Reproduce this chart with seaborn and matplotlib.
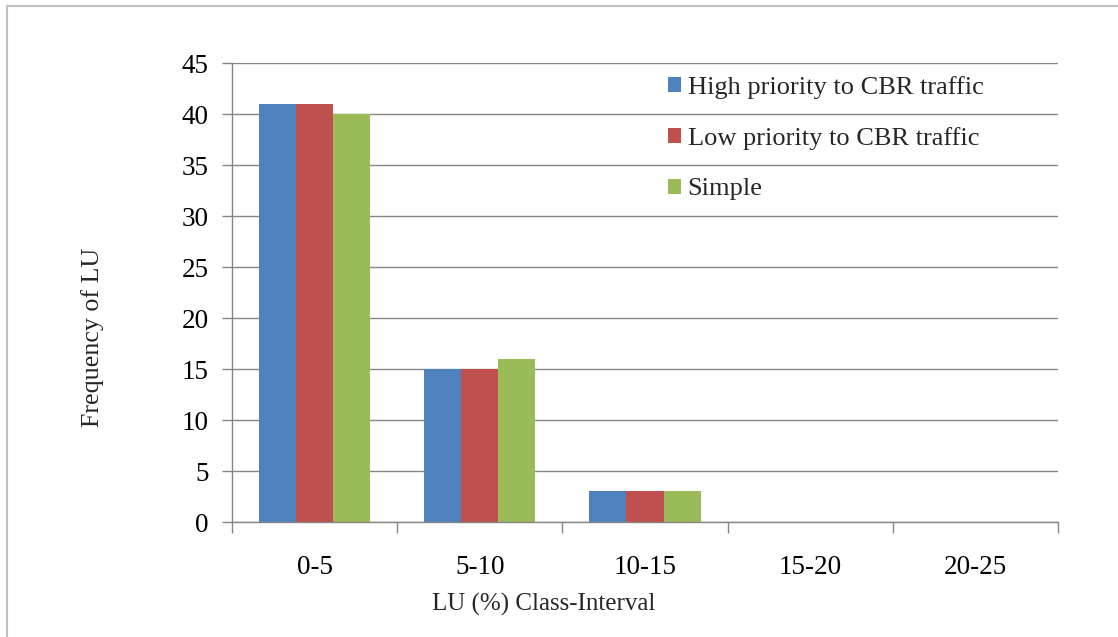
import matplotlib
matplotlib.use("Agg")
import matplotlib.pyplot as plt
from matplotlib.patches import Patch
from matplotlib.lines import Line2D
import seaborn as sns
import pandas as pd

categories = ["0-5", "5-10", "10-15", "15-20", "20-25"]
high_priority = [41, 15, 3, 0, 0]
low_priority = [41, 15, 3, 0, 0]
simple = [40, 16, 3, 0, 0]
series_names = ["High priority to CBR traffic", "Low priority to CBR traffic", "Simple"]
colors = ["#4F81BD", "#C0504D", "#9BBB59"]
y_ticks = [0, 5, 10, 15, 20, 25, 30, 35, 40, 45]

rows = []
for name, vals in zip(series_names, [high_priority, low_priority, simple]):
    for cat, v in zip(categories, vals):
        rows.append({"interval": cat, "freq": v, "series": name})
df = pd.DataFrame(rows)

sns.set_style("white")
plt.rcParams["font.family"] = ["Liberation Serif", "DejaVu Serif"]

W, H = 1118, 637
fig = plt.figure(figsize=(W / 100, H / 100), dpi=100)
ax = fig.add_axes([232 / W, 1 - 522 / H, (1058 - 232) / W, (522 - 63) / H])

sns.barplot(data=df, x="interval", y="freq", hue="series", order=categories,
            hue_order=series_names, palette=colors, width=0.672, gap=0,
            saturation=1, linewidth=0, ax=ax, legend=False)

grid_c = "#868686"
ax.set_ylim(0, 45)
ax.set_xlim(-0.5, len(categories) - 0.5)
ax.set_yticks(y_ticks)
ax.yaxis.grid(True, color=grid_c, linewidth=1)
ax.set_axisbelow(True)
for s in ["top", "right"]:
    ax.spines[s].set_visible(False)
for s in ["left", "bottom"]:
    ax.spines[s].set_color(grid_c)
    ax.spines[s].set_linewidth(1)

ax.tick_params(axis="y", length=7, color=grid_c, width=1, labelsize=19.5, pad=10,
               left=True, labelcolor="black")
ax.tick_params(axis="x", which="major", length=0, labelsize=19.5, pad=23.5,
               labelcolor="black")
ax.set_xticks([i - 0.5 for i in range(len(categories) + 1)], minor=True)
ax.tick_params(axis="x", which="minor", length=8, color=grid_c, width=1, bottom=True)
ax.set_xlabel("")
ax.set_ylabel("")

fig.text(544 / W, 1 - 604 / H, "LU (%) Class-Interval", fontsize=18,
         ha="center", va="center")
fig.text(93 / W, 1 - 337 / H, "Frequency of LU", fontsize=18.7,
         rotation=90, ha="center", va="center")

handles = [Patch(facecolor=c, edgecolor="none") for c in colors]
fig.legend(handles, series_names, loc="upper left",
           bbox_to_anchor=(668 / W, 1 - 76 / H), frameon=False, fontsize=19,
           handlelength=0.49, handleheight=0.49, handletextpad=0.25,
           labelspacing=1.07, borderpad=0, borderaxespad=0)

# Chart-area frame: visible on the left and top edges only
border_c = "#C0C0C0"
fig.add_artist(Line2D([7 / W, 7 / W], [0, 1 - 6 / H], transform=fig.transFigure,
                      color=border_c, linewidth=1.5))
fig.add_artist(Line2D([7 / W, 1], [1 - 6 / H, 1 - 6 / H], transform=fig.transFigure,
                      color=border_c, linewidth=1.5))

fig.savefig("out.png", dpi=100)
